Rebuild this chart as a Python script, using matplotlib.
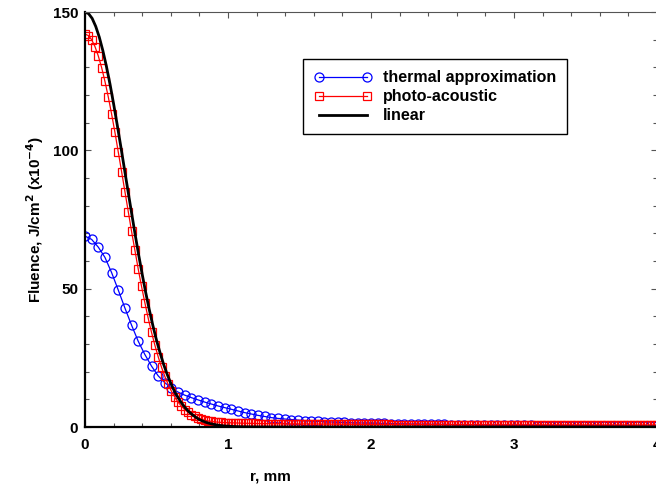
import numpy as np
import matplotlib
matplotlib.use('Agg')
import matplotlib.pyplot as plt
from matplotlib.ticker import MultipleLocator

plt.rcParams['font.family'] = ['Liberation Sans', 'DejaVu Sans']
plt.rcParams['font.weight'] = 'bold'

# grid steps (mm)
step_photo = 0.02326
step_thermal = 0.04652

# thermal approximation, J/cm^2 (x1e-4)
thermal = [69.0, 67.8, 65.0, 61.3, 55.8, 49.5, 43.0, 36.8, 31.0, 26.2,
           22.0, 18.5, 16.0, 14.1, 12.6, 11.5, 10.6, 9.8, 9.0, 8.3,
           7.6, 7.0, 6.4, 5.8, 5.2, 4.7, 4.2, 3.8, 3.4, 3.1,
           2.9, 2.7, 2.5, 2.3, 2.15, 2.0, 1.9, 1.8, 1.7, 1.65,
           1.55, 1.5, 1.45, 1.4, 1.35, 1.3, 1.25, 1.2, 1.15, 1.1,
           1.06, 1.02, 0.98, 0.95, 0.92, 0.89, 0.86, 0.83, 0.8, 0.77,
           0.74, 0.71, 0.68, 0.65, 0.62, 0.6, 0.58, 0.56, 0.54, 0.52,
           0.5, 0.48, 0.46, 0.44, 0.43, 0.42, 0.41, 0.4, 0.39, 0.38,
           0.37, 0.36, 0.35, 0.34, 0.33, 0.32, 0.31]

# photo-acoustic
photo = [142.0, 141.5, 140.0, 137.5, 134.1, 129.9, 124.9, 119.3, 113.1, 106.5,
         99.5, 92.3, 85.1, 77.8, 70.7, 63.8, 57.1, 50.8, 44.9, 39.3,
         34.2, 29.6, 25.4, 21.6, 18.3, 15.4, 12.9, 10.8, 9.0, 7.5,
         6.3, 5.3, 4.4, 3.8, 3.2, 2.8, 2.45, 2.2, 2.0, 1.85,
         1.75, 1.65, 1.6, 1.55, 1.5, 1.45, 1.42, 1.39, 1.36, 1.33,
         1.3, 1.28, 1.26, 1.24, 1.22, 1.2, 1.19, 1.18, 1.17, 1.16,
         1.15, 1.14, 1.13, 1.12, 1.11, 1.10, 1.09, 1.08, 1.07, 1.06,
         1.05, 1.04, 1.04, 1.03, 1.02, 1.01, 1.00, 0.99, 0.99, 0.98,
         0.97, 0.97, 0.96, 0.95, 0.95, 0.94, 0.93, 0.93, 0.92, 0.92,
         0.91, 0.91, 0.90, 0.90, 0.89, 0.89, 0.88, 0.88, 0.87, 0.87,
         0.86, 0.86, 0.86, 0.85, 0.85, 0.85, 0.84, 0.84, 0.84, 0.83,
         0.83, 0.83, 0.82, 0.82, 0.82, 0.82, 0.81, 0.81, 0.81, 0.81,
         0.80, 0.80, 0.80, 0.80, 0.79, 0.79, 0.79, 0.79, 0.79, 0.78,
         0.78, 0.78, 0.78, 0.78, 0.77, 0.77, 0.77, 0.77, 0.77, 0.77,
         0.77, 0.76, 0.76, 0.76, 0.76, 0.76, 0.76, 0.76, 0.76, 0.76,
         0.76, 0.75, 0.75, 0.75, 0.75, 0.75, 0.75, 0.75, 0.75, 0.75,
         0.75, 0.74, 0.74, 0.74, 0.74, 0.74, 0.74, 0.74, 0.74, 0.74,
         0.74, 0.74, 0.74]

# linear
r_linear = [0, 0.025, 0.05, 0.075, 0.1, 0.125, 0.15, 0.175, 0.2, 0.225,
            0.25, 0.275, 0.3, 0.325, 0.35, 0.375, 0.4, 0.425, 0.45, 0.475,
            0.5, 0.525, 0.55, 0.575, 0.6, 0.625, 0.65, 0.675, 0.7, 0.725,
            0.75, 0.775, 0.8, 0.825, 0.85, 0.875, 0.9, 0.925, 0.95, 0.975,
            1.0, 1.05, 1.1, 1.2, 1.5, 4.2]
linear = [150.0, 149.4, 147.7, 144.8, 140.9, 136.0, 130.3, 123.9, 116.8, 109.3,
          101.5, 93.5, 85.5, 77.6, 69.8, 62.3, 55.2, 48.5, 42.3, 36.6,
          31.4, 26.8, 22.6, 19.0, 15.8, 13.0, 10.7, 8.7, 7.0, 5.6,
          4.5, 3.5, 2.7, 2.1, 1.6, 1.25, 0.95, 0.71, 0.53, 0.39,
          0.29, 0.15, 0.08, 0.02, 0.0, 0.0]

r_thermal = np.arange(len(thermal)) * step_thermal
r_photo = np.arange(len(photo)) * step_photo

fig = plt.figure(figsize=(6.56, 4.86), dpi=100)
ax = fig.add_axes([85/656, 1 - 427/486, 572/656, 415/486])

ax.plot(r_thermal, thermal, color='blue', lw=0.9, marker='o', ms=6.5,
        mfc='none', mec='blue', mew=0.9, label='thermal approximation')
ax.plot(r_photo, photo, color='red', lw=0.9, marker='s', ms=6.3,
        mfc='none', mec='red', mew=0.9, label='photo-acoustic')
ax.plot(r_linear, linear, color='black', lw=2.0, label='linear')

ax.set_xlim(0, 4)
ax.set_ylim(0, 150)
ax.set_xticks([0, 1, 2, 3, 4])
ax.set_yticks([0, 50, 100, 150])
ax.xaxis.set_minor_locator(MultipleLocator(0.2))
ax.yaxis.set_minor_locator(MultipleLocator(10))
ax.tick_params(which='both', direction='in', top=True, right=True,
               color='#555555', width=0.8, labelsize=11)
ax.tick_params(which='major', length=4)
ax.tick_params(which='minor', length=3)
ax.tick_params(axis='x', pad=8)
ax.tick_params(axis='y', pad=5)

for s in ['left', 'bottom']:
    ax.spines[s].set_linewidth(1.6)
ax.spines['top'].set_linewidth(0.8)
ax.spines['top'].set_color('#555555')

ax.set_xlabel('r, mm', fontsize=11, fontweight='bold')
ax.xaxis.set_label_coords((270 - 85) / 572, -0.103)
ax.set_ylabel('Fluence, J/cm$^\\mathbf{2}$ (x10$^\\mathbf{-4}$)', fontsize=11,
              fontweight='bold', labelpad=5)

leg = ax.legend(loc='upper left', bbox_to_anchor=(303/656, 1 - 59/486),
                bbox_transform=fig.transFigure, fancybox=False, framealpha=1,
                edgecolor='black', fontsize=11.5, numpoints=2, handlelength=3.6,
                handletextpad=0.7, borderpad=0.7, labelspacing=0.25,
                borderaxespad=0)
leg.get_frame().set_linewidth(1.0)
for t in leg.get_texts():
    t.set_fontweight('bold')

fig.savefig('out.png', dpi=100)
